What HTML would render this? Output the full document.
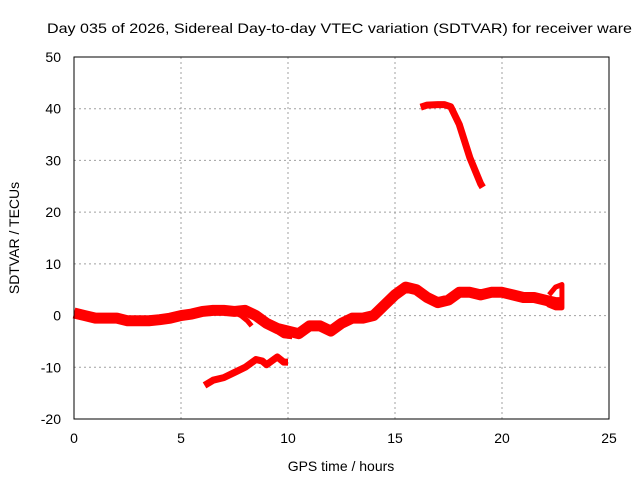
<!DOCTYPE html>
<html><head><meta charset="utf-8"><style>
html,body{margin:0;padding:0;background:#fff;}
svg{display:block;font-family:"Liberation Sans",sans-serif;}
</style></head><body>
<svg id="chart" width="640" height="480" viewBox="0 0 640 480" xmlns="http://www.w3.org/2000/svg">
<rect width="640" height="480" fill="#fff"/>
<text x="47" y="33" font-size="14" textLength="585" lengthAdjust="spacingAndGlyphs">Day 035 of 2026, Sidereal Day-to-day VTEC variation (SDTVAR) for receiver ware</text>
<g id="grid"></g>
<g id="ticks" font-size="14" fill="#000"></g>
<g id="series"></g>
<rect x="74" y="57" width="535" height="362" fill="none" stroke="#000" stroke-width="1"/>
<text x="341" y="471" font-size="14" text-anchor="middle">GPS time / hours</text>
<text transform="translate(19,238) rotate(-90)" font-size="14" text-anchor="middle">SDTVAR / TECUs</text>
</svg>
<script>
const xTicks = [0,5,10,15,20,25];
const yTicks = [-20,-10,0,10,20,30,40,50];
const mainHours = [0,0.5,1,1.5,2,2.5,3,3.5,4,4.5,5,5.5,6,6.5,7,7.5,8,8.5,9,9.5,10,10.5,11,11.5,12,12.5,13,13.5,14,14.5,15,15.5,16,16.5,17,17.5,18,18.5,19,19.5,20,20.5,21,21.5,22,22.5,22.8];
const mainValues = [0.5,0,-0.5,-0.5,-0.5,-1,-1,-1,-0.8,-0.5,0,0.3,0.8,1,1,0.8,1,0,-1.5,-2.5,-3,-3.5,-2,-2,-3,-1.5,-0.5,-0.5,0,2,4,5.5,5,3.5,2.5,3,4.5,4.5,4,4.5,4.5,4,3.5,3.5,3,2.5,2.5];
const endHours = [21.8,22.2,22.5,22.8,22.8,22.5,22.2];
const endValues = [3.5,2,1.5,1.5,6,5.5,4];
const branch1Hours = [7.4,7.8,8.1,8.3];
const branch1Values = [0.8,0,-1,-2];
const branch2Hours = [8.8,9.3,9.8,10.2];
const branch2Values = [-1,-2.5,-3.8,-4];
const lowHours = [6.1,6.5,7,7.5,8,8.5,8.8,9,9.5,9.8,10];
const lowValues = [-13.5,-12.5,-12,-11,-10,-8.5,-8.8,-9.5,-8,-9,-9];
const highHours = [16.2,16.5,17,17.3,17.6,18,18.5,19,19.1];
const highValues = [40.3,40.7,40.8,40.8,40.4,37,30.5,25.5,24.8];

const X0=74,X1=609,Y0=419,Y1=57;
const xs=v=>X0+(v-0)/(25-0)*(X1-X0);
const ys=v=>Y0-(v+20)/70*(Y0-Y1);
const NS="http://www.w3.org/2000/svg";
const grid=document.getElementById('grid'),ticks=document.getElementById('ticks'),ser=document.getElementById('series');
function mk(t,a){const e=document.createElementNS(NS,t);for(const k in a)e.setAttribute(k,a[k]);return e;}
xTicks.forEach(t=>{
  if(t>0&&t<25){const l=mk('line',{x1:xs(t),x2:xs(t),y1:Y1,y2:Y0,stroke:'#a0a0a0','stroke-dasharray':'2,3'});
  
  
  grid.appendChild(l);}
  const tx=mk('text',{x:xs(t),y:443,'text-anchor':'middle'});tx.textContent=t;
  
  
  ticks.appendChild(tx);
});
yTicks.forEach(t=>{
  if(t>-20&&t<50){const l=mk('line',{x1:X0,x2:X1,y1:ys(t),y2:ys(t),stroke:'#a0a0a0','stroke-dasharray':'2,3'});
  
  
  grid.appendChild(l);}
  const tx=mk('text',{x:61,y:ys(t)+5,'text-anchor':'end'});tx.textContent=t;
  
  
  ticks.appendChild(tx);
});
function line(h,v,w,name){
  const p=mk('polyline',{points:h.map((x,i)=>xs(x)+','+ys(v[i])).join(' '),fill:'none',stroke:'#ff0000','stroke-width':w,'stroke-linejoin':'round','stroke-linecap':'butt'});
  
  
  ser.appendChild(p);
}
line(mainHours,mainValues,11,'main-series');
line(endHours,endValues,5,'main-series-end-spread');
line(branch1Hours,branch1Values,5,'branch-series-1');
line(branch2Hours,branch2Values,6,'branch-series-2');
line(lowHours,lowValues,7,'low-series');
line(highHours,highValues,7,'high-series');
</script>
</body></html>
